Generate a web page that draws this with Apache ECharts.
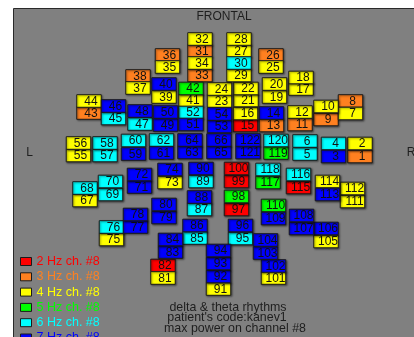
<!DOCTYPE html>
<html>
<head>
<meta charset="utf-8">
<script src="https://cdn.jsdelivr.net/npm/echarts@6/dist/echarts.min.js"></script>
<style>
  html, body { margin: 0; padding: 0; background: #fff; }
  #chart { width: 414px; height: 337px; }
</style>
</head>
<body>
<div id="chart"></div>
<script>
// Channel numbers 1..122 and their scalp-map positions (map units)
const channels = Array.from({ length: 122 }, (_, i) => i + 1);
const electrodeX = [
  360, 360, 333.5, 333.5, 305, 305, 350.5, 350.5, 326, 326,
  300, 300, 271.5, 271.5, 245.5, 245.5, 301, 301, 274.5, 274.5,
  246, 246, 219.5, 219.5, 271, 271, 239, 239, 239, 239,
  200, 200, 200, 200, 167.5, 167.5, 138, 138, 164, 164,
  191, 191, 89, 89, 113.5, 113.5, 140, 140, 165.5, 165.5,
  191, 191, 219.5, 219.5, 78.5, 78.5, 105, 105, 133.5, 133.5,
  161.5, 161.5, 190, 190, 219, 219, 85, 85, 110.5, 110.5,
  139.5, 139.5, 170, 170, 111.5, 111.5, 135.5, 135.5, 164, 164,
  163, 163, 170.5, 170.5, 195, 195, 199.5, 199.5, 201, 201,
  218.5, 218.5, 218.5, 218.5, 240.5, 240.5, 236.5, 236.5, 236.5, 236.5,
  273.5, 273.5, 265.5, 265.5, 326, 326, 301.5, 301.5, 273.5, 273.5,
  352.5, 352.5, 327.5, 327.5, 298.5, 298.5, 268, 268, 276, 276,
  248, 248
];
const electrodeY = [
  156.5, 143.5, 156.5, 143.5, 154, 141, 113.5, 101, 119.5, 106.5,
  124.5, 112, 125.5, 113, 125.5, 113.5, 89, 77.5, 97, 84,
  100.5, 88.5, 101, 89, 67, 55, 51, 39, 75.5, 63,
  51, 39, 75.5, 63, 67, 55, 88, 76, 97, 84,
  100.5, 88.5, 113, 101, 118.5, 106, 124, 111, 125, 112,
  124.5, 112.5, 126.5, 114, 155.5, 143, 155.5, 143, 154, 140.5,
  153, 140, 152.5, 140, 152.5, 140, 200.5, 188, 194.5, 181.5,
  187, 174.5, 182.5, 169.5, 239.5, 227, 227, 214.5, 217.5, 204.5,
  278, 265.5, 252, 239.5, 238, 225.5, 209.5, 197, 181.5, 168.5,
  289, 276.5, 263.5, 250.5, 238.5, 225.5, 209.5, 196.5, 181.5, 168.5,
  278, 266, 253, 240, 241.5, 228.5, 228.5, 215.5, 218.5, 205.5,
  201.5, 188.5, 194.5, 181.5, 187.5, 174.5, 182.5, 169.5, 153, 140.5,
  152.5, 140
];
// Frequency (Hz) with maximum power for each channel
const peakHz = [
  3, 4, 7, 6, 6, 6, 4, 3, 3, 4,
  3, 4, 3, 7, 2, 4, 4, 4, 4, 4,
  4, 4, 4, 4, 4, 3, 4, 4, 4, 6,
  3, 4, 3, 4, 4, 3, 4, 3, 4, 7,
  4, 5, 3, 4, 6, 7, 6, 7, 7, 7,
  7, 6, 7, 7, 4, 4, 6, 6, 7, 6,
  7, 6, 7, 7, 7, 7, 4, 6, 6, 6,
  7, 7, 4, 7, 4, 6, 7, 7, 7, 7,
  4, 2, 7, 7, 6, 7, 6, 7, 6, 7,
  4, 7, 7, 7, 6, 7, 2, 5, 2, 2,
  4, 7, 7, 7, 4, 7, 7, 7, 7, 5,
  4, 4, 7, 4, 2, 6, 5, 6, 5, 6,
  7, 7
];
const bandsHz = [2, 3, 4, 5, 6, 7];
const bandColors = ['#ff0000', '#ff8020', '#ffff00', '#00ff00', '#00ffff', '#0000ff'];
const maxPowerChannel = 8;
const titleLines = ['delta & theta rhythms', "patient's code:kanev1", 'max power on channel #' + maxPowerChannel];

const BOX_W = 24.5, BOX_H = 12.6;
const FONT = '"Liberation Sans", Arial, sans-serif';

function renderBox(params, api) {
  const c = api.coord([api.value(0), api.value(1)]);
  const s = api.size([BOX_W, BOX_H]);
  return {
    type: 'group',
    children: [
      {
        type: 'rect',
        shape: { x: c[0] - s[0] / 2, y: c[1] - s[1] / 2, width: s[0], height: s[1] },
        style: {
          fill: api.visual('color'), stroke: '#1a1a1a', lineWidth: 1,
          shadowBlur: 2, shadowColor: 'rgba(0,0,0,0.45)', shadowOffsetX: 1, shadowOffsetY: 1
        }
      },
      {
        type: 'text',
        x: c[0] + 2, y: c[1] + 0.5,
        style: {
          text: String(api.value(2)), align: 'center', verticalAlign: 'middle',
          font: '12px ' + FONT, fill: '#111'
        }
      }
    ]
  };
}

const series = bandsHz.map((hz, bi) => ({
  type: 'custom',
  name: hz + ' Hz ch. #' + maxPowerChannel,
  color: bandColors[bi],
  itemStyle: { color: bandColors[bi] },
  renderItem: renderBox,
  data: channels
    .filter((ch, i) => peakHz[i] === hz)
    .map(ch => [electrodeX[ch - 1], electrodeY[ch - 1], ch]),
  encode: { x: 0, y: 1 },
  silent: true,
  animation: false
}));

const chart = echarts.init(document.getElementById('chart'), null, { renderer: 'canvas' });
chart.setOption({
  backgroundColor: '#ffffff',
  animation: false,
  grid: { left: 0, right: 0, top: 0, bottom: 0 },
  xAxis: { type: 'value', min: 0, max: 414, show: false },
  yAxis: { type: 'value', min: 0, max: 337, inverse: true, show: false },
  legend: {
    orient: 'vertical', left: 20, top: 255, height: 140, padding: 0,
    itemWidth: 11, itemHeight: 8, itemGap: 2.3,
    icon: 'rect', selectedMode: false,
    itemStyle: { borderColor: '#1a1a1a', borderWidth: 1 },
    textStyle: { fontSize: 12.5, fontFamily: FONT, lineHeight: 12 },
    data: series.map((s, i) => ({ name: s.name, textStyle: { color: bandColors[i] } }))
  },
  graphic: [
    { type: 'rect', z: -10, shape: { x: 13.5, y: 8.5, width: 420, height: 340 },
      style: { fill: '#808080', stroke: '#2a2a2a', lineWidth: 1 } },
    { type: 'text', x: 224, y: 16.5, style: { text: 'FRONTAL', align: 'center', verticalAlign: 'middle', font: '12px ' + FONT, fill: '#1e1e1e' } },
    { type: 'text', x: 29.5, y: 153, style: { text: 'L', align: 'center', verticalAlign: 'middle', font: '12px ' + FONT, fill: '#1e1e1e' } },
    { type: 'text', x: 411, y: 153, style: { text: 'R', align: 'center', verticalAlign: 'middle', font: '12px ' + FONT, fill: '#1e1e1e' } },
    { type: 'text', x: 228, y: 307.5, style: { text: titleLines[0], align: 'center', verticalAlign: 'middle', font: '12.4px ' + FONT, fill: '#1e1e1e' } },
    { type: 'text', x: 227, y: 318, style: { text: titleLines[1], align: 'center', verticalAlign: 'middle', font: '12.4px ' + FONT, fill: '#1e1e1e' } },
    { type: 'text', x: 235, y: 328.5, style: { text: titleLines[2], align: 'center', verticalAlign: 'middle', font: '12.4px ' + FONT, fill: '#1e1e1e' } }
  ],
  series: series
});
</script>
</body>
</html>
